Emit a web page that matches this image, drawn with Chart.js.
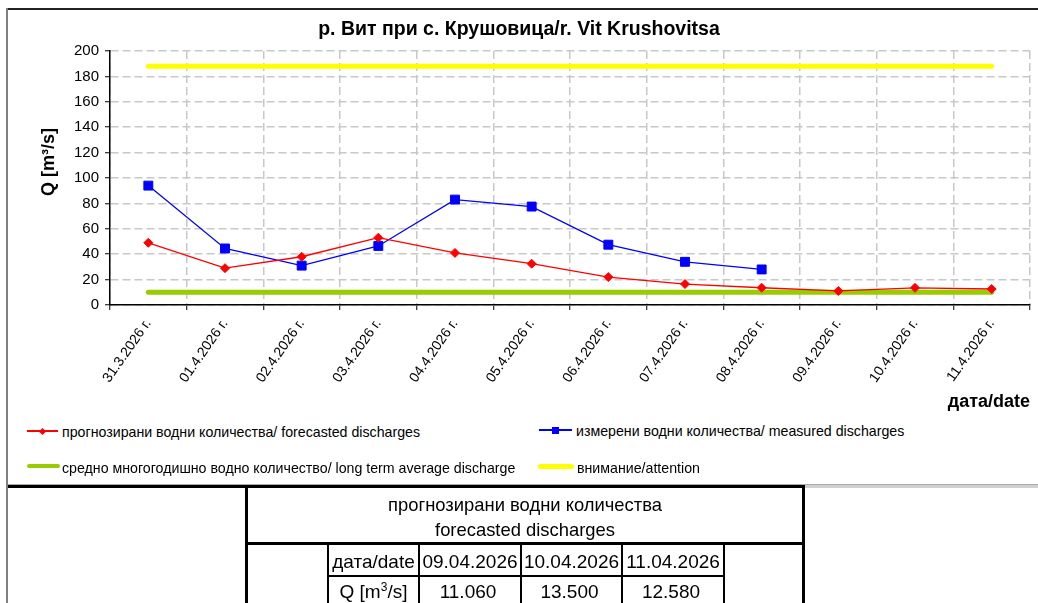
<!DOCTYPE html>
<html>
<head>
<meta charset="utf-8">
<script src="https://cdn.jsdelivr.net/npm/chart.js@4.4.1/dist/chart.umd.min.js"></script>
<style>
  html, body { margin:0; padding:0; background:#fff; }
  body { width:1038px; height:603px; overflow:hidden; position:relative; font-family:'Liberation Sans', Arial, sans-serif; color:#000; }
  .abs { position:absolute; }
  .ln { position:absolute; background:#000; }
  .lgtx { position:absolute; font-size:14.2px; line-height:16px; white-space:nowrap; }
  .cell { position:absolute; font-size:19px; line-height:22px; text-align:center; white-space:nowrap; }
</style>
</head>
<body>
<script>
// ---------- data ----------
const categories = ['31.3.2026 г.', '01.4.2026 г.', '02.4.2026 г.', '03.4.2026 г.', '04.4.2026 г.', '05.4.2026 г.',
                    '06.4.2026 г.', '07.4.2026 г.', '08.4.2026 г.', '09.4.2026 г.', '10.4.2026 г.', '11.4.2026 г.'];
const forecastValues = [49, 29, 38, 53, 41, 32.5, 22, 16.5, 13.6, 11.06, 13.5, 12.58];
const measuredValues = [94, 44.5, 31, 46.5, 83, 77.5, 47.5, 34, 28, null, null, null];
const longTermAverage = [10, 10, 10, 10, 10, 10, 10, 10, 10, 10, 10, 10];
const attentionLevel = [188, 188, 188, 188, 188, 188, 188, 188, 188, 188, 188, 188];
const yTickMin = 0, yTickMax = 200, yTickStep = 20;
const seriesNames = [
  'прогнозирани  водни количества/ forecasted discharges',
  'измерени водни количества/ measured discharges',
  'средно многогодишно водно количество/ long term average discharge',
  'внимание/attention'
];
const chartTitle = 'р. Вит при с. Крушовица/r. Vit Krushovitsa';
const yTitle = 'Q [m³/s]';
const xTitle = 'дата/date';
const tableHeader = ['прогнозирани водни количества', 'forecasted discharges'];
const tableDates = ['09.04.2026', '10.04.2026', '11.04.2026'];
const tableValues = ['11.060', '13.500', '12.580'];
</script>

<!-- frame -->
<div class="ln" style="left:6px; top:8px; width:1040px; height:2px; background:#222;"></div>
<div class="ln" style="left:6px; top:8px; width:2px; height:600px; background:#808080;"></div>
<div class="ln" style="left:8px; top:484px; width:1040px; height:1px; background:#aaa;"></div>
<div class="ln" style="left:805px; top:485px; width:240px; height:3px; background:#d0d0d0;"></div>

<canvas id="c" width="1038" height="413" style="position:absolute; left:0; top:0;"></canvas>

<div id="ytitle" class="abs" style="left:48px; top:162px; transform:translate(-50%,-50%) rotate(-90deg); font-weight:bold; font-size:18px; white-space:nowrap;"></div>

<!-- legend -->
<div id="legend"></div>

<!-- table -->
<div id="table"></div>

<script>
document.getElementById('ytitle').textContent = yTitle;

// legend (HTML)
(function(){
  const lg = document.getElementById('legend');
  const items = [
    {x:27, w:31, y:431, color:'#ff0000', thick:1.5, marker:'diamond', tx:62},
    {x:539, w:33, y:430, color:'#0000ff', thick:1.5, marker:'square', tx:576},
    {x:27, w:33, y:466, color:'#99cc00', thick:4, marker:null, tx:62},
    {x:538, w:36, y:466, color:'#ffff00', thick:5, marker:null, tx:577}
  ];
  items.forEach((it, i) => {
    const l = document.createElement('div');
    l.className = 'ln';
    l.style.cssText = `left:${it.x}px; top:${it.y - it.thick/2}px; width:${it.w}px; height:${it.thick}px; background:${it.color}; border-radius:${it.thick>2?it.thick/2:0}px;`;
    lg.appendChild(l);
    if (it.marker) {
      const m = document.createElement('div');
      m.className = 'ln';
      const s = it.marker === 'diamond' ? 5 : 7;
      const cx = it.x + it.w/2;
      m.style.cssText = `left:${cx - s/2}px; top:${it.y - s/2}px; width:${s}px; height:${s}px; background:${it.color};` +
        (it.marker === 'diamond' ? 'transform:rotate(45deg);' : '');
      lg.appendChild(m);
    }
    const t = document.createElement('div');
    t.className = 'lgtx';
    t.style.left = it.tx + 'px';
    t.style.top = (it.y - 8 + (i >= 2 ? 2 : 1)) + 'px';
    t.textContent = seriesNames[i];
    lg.appendChild(t);
  });
})();

// table (HTML)
(function(){
  const tb = document.getElementById('table');
  function line(x, y, w, h) {
    const d = document.createElement('div');
    d.className = 'ln';
    d.style.cssText = `left:${x}px; top:${y}px; width:${w}px; height:${h}px;`;
    tb.appendChild(d);
  }
  function text(str, x, y, w, html, size) {
    const d = document.createElement('div');
    d.className = 'cell';
    d.style.left = x + 'px'; d.style.top = (y - 11) + 'px'; d.style.width = w + 'px';
    if (size) d.style.fontSize = size + 'px';
    if (html) d.innerHTML = str; else d.textContent = str;
    tb.appendChild(d);
  }
  // thick outer lines
  line(8, 485, 797, 3);       // top
  line(245, 485, 3, 130);     // left
  line(802, 485, 3, 130);     // right
  line(245, 542, 560, 3);     // header separator
  // inner grid
  const cols = [327, 418, 520, 621, 723];
  cols.forEach(c => line(c, 544, 2, 70));
  line(327, 575, 398, 2);
  // header text
  text(tableHeader[0], 245, 505, 560, false, 18.4);
  text(tableHeader[1], 245, 530, 560, false, 18.4);
  // row labels
  text(xTitle, 328, 562, 91);
  text('Q [m<sup style="font-size:12px;line-height:0;">3</sup>/s]', 328, 592, 91, true);
  for (let i = 0; i < 3; i++) {
    const x0 = cols[i+1] + 1, w = cols[i+2] - cols[i+1];
    text(tableDates[i], x0, 562, w);
    text(tableValues[i], x0 - 2, 592, w);
  }
})();

// chart
Chart.defaults.font.family = "'Liberation Sans', Arial, sans-serif";
Chart.defaults.color = '#000';

new Chart(document.getElementById('c'), {
  type: 'line',
  data: {
    labels: categories,
    datasets: [
      { label: seriesNames[0], data: forecastValues, borderColor: '#ff0000', backgroundColor: '#ff0000',
        borderWidth: 1.3, pointStyle: 'rectRot', pointRadius: 4.5, pointBorderWidth: 1, tension: 0 },
      { label: seriesNames[1], data: measuredValues, borderColor: '#0000ff', backgroundColor: '#0000ff',
        borderWidth: 1.3, pointStyle: 'rect', pointRadius: 6.3, pointBorderWidth: 1, tension: 0 },
      { label: seriesNames[2], data: longTermAverage, borderColor: '#99cc00', backgroundColor: '#99cc00',
        borderWidth: 5, pointRadius: 0, borderCapStyle: 'round', tension: 0 },
      { label: seriesNames[3], data: attentionLevel, borderColor: '#ffff00', backgroundColor: '#ffff00',
        borderWidth: 5, pointRadius: 0, borderCapStyle: 'round', tension: 0 }
    ]
  },
  options: {
    responsive: false,
    animation: false,
    devicePixelRatio: 1,
    layout: { padding: { top: 0, left: 8, right: 8, bottom: 0 } },
    plugins: {
      legend: { display: false },
      tooltip: { enabled: false },
      title: {
        display: true, text: chartTitle,
        font: { size: 19.5, weight: 'bold' }, color: '#000',
        padding: { top: 18, bottom: 9.6 }
      }
    },
    scales: {
      x: {
        type: 'category',
        offset: true,
        grid: { display: true, offset: true, color: '#c8c8c8', lineWidth: 1.5, tickLength: 5, tickColor: '#000', tickWidth: 1, tickBorderDash: [] },
        border: { display: true, color: '#000', width: 1.5, dash: [8, 4] },
        ticks: { autoSkip: false, minRotation: 55, maxRotation: 55, padding: 6, font: { size: 14 }, color: '#000' },
        title: { display: true, text: xTitle, align: 'end', font: { size: 18, weight: 'bold' }, color: '#000', padding: 0 },
        afterFit: s => { s.height = 108; }
      },
      y: {
        min: yTickMin, max: yTickMax,
        grid: { color: '#c8c8c8', lineWidth: 1.5, tickLength: 5, tickColor: '#000', tickWidth: 1, tickBorderDash: [] },
        border: { display: true, color: '#000', width: 1.5, dash: [8, 4] },
        ticks: { stepSize: yTickStep, padding: 6, font: { size: 15 }, color: '#000' },
        afterFit: s => { s.width = 102; }
      }
    }
  }
});
</script>
</body>
</html>
